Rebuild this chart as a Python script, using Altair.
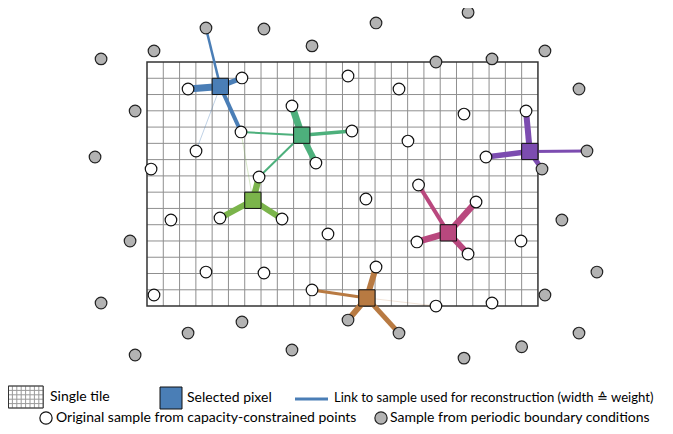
import altair as alt
import pandas as pd

# ---------------- data (positions in tile-cell units, y grows downward) ----------------
tile_cols = 24
tile_rows = 15

# original samples inside the tile (white)
orig_x = [2.52, 5.83, 8.90, 5.77, 3.01, 0.25, 10.37, 6.88, 1.47, 4.48, 8.29, 11.11,
          3.62, 7.18, 0.43, 10.13, 12.34, 15.47, 19.46, 12.58, 16.02, 23.27, 20.81,
          16.67, 13.44, 20.20, 16.57, 19.71, 22.96, 14.06, 17.74, 21.18]
orig_y = [1.66, 0.98, 2.70, 4.30, 5.47, 6.58, 6.21, 7.07, 9.71, 9.59, 9.65, 10.57,
          12.91, 12.97, 14.32, 14.01, 0.86, 1.66, 3.20, 4.24, 4.86, 3.01, 5.84,
          7.56, 8.42, 8.60, 11.06, 11.80, 11.00, 12.60, 15.00, 14.81]

# samples from periodic boundary conditions (gray)
per_x = [-2.82, 0.43, 3.62, 7.18, 10.13, 14.06, 19.71, 17.74, 21.18, 24.43, 26.52,
         -0.73, -3.19, 27.01, 24.25, 25.47, -1.04, 27.62, -2.82, 24.43, 2.52, 5.83,
         12.34, 15.47, 26.52, -0.73, 8.90, 19.46, 23.00]
per_y = [-0.19, -0.68, -2.09, -2.03, -0.99, -2.40, -3.05, 0.00, -0.19, -0.68, 1.66,
         3.01, 5.84, 5.47, 6.58, 9.71, 11.00, 12.91, 14.81, 14.32, 16.66, 15.98,
         15.86, 16.66, 16.66, 18.01, 17.70, 18.20, 17.50]

# selected pixels
pix_col = [4, 9, 6, 18, 13, 23]
pix_row = [1, 4, 8, 10, 14, 5]
pix_color = ["#4a7eb6", "#4db07c", "#7bb44b", "#b9487e", "#b87a42", "#7c4cb0"]

# links from pixel centre to the samples used for reconstruction
link_pix = [0, 0, 0, 0, 0,
            1, 1, 1, 1, 1,
            2, 2, 2, 2,
            3, 3, 3, 3,
            4, 4, 4, 4, 4,
            5, 5, 5, 5]
link_tx = [3.62, 2.52, 5.83, 5.77, 3.01,
           8.90, 12.58, 10.37, 5.77, 6.88,
           6.88, 4.48, 8.29, 5.77,
           16.67, 20.20, 16.57, 19.71,
           14.06, 10.13, 12.34, 15.47, 17.74,
           23.27, 20.81, 27.01, 24.25]
link_ty = [-2.09, 1.66, 0.98, 4.30, 5.47,
           2.70, 4.24, 6.21, 4.30, 7.07,
           7.07, 9.59, 9.65, 4.30,
           7.56, 8.60, 11.06, 11.80,
           12.60, 14.01, 15.86, 16.66, 15.00,
           3.01, 5.84, 5.47, 6.58]
link_w = [2.5, 7, 5, 4, 1,
          7, 3.5, 6, 2, 2,
          6.5, 6, 6, 1,
          4, 6.5, 6.5, 6,
          6, 3, 6, 5, 1,
          6, 5.5, 3, 5]
link_op = [1, 1, 1, 1, 0.35,
           1, 1, 1, 1, 1,
           1, 1, 1, 0.3,
           1, 1, 1, 1,
           1, 1, 1, 1, 0.2,
           1, 1, 1, 1]

legend_labels = ["Single tile", "Selected pixel",
                 "Link to sample used for reconstruction (width \u2259 weight)",
                 "Original sample from capacity-constrained points",
                 "Sample from periodic boundary conditions"]

# ---------------- tables ----------------
W, H = 657, 418
X = alt.Scale(domain=[-8.533, 31.80], nice=False, zero=False)
Y = alt.Scale(domain=[-3.319, 22.372], nice=False, zero=False, reverse=True)

vgrid = pd.DataFrame({"gx": list(range(1, tile_cols)), "y0": 0, "y1": tile_rows})
hgrid = pd.DataFrame({"gy": list(range(1, tile_rows)), "x0": 0, "x1": tile_cols})
border = pd.DataFrame({"bx": [0], "bx2": [tile_cols], "by": [0], "by2": [tile_rows]})

orig = pd.DataFrame({"x": orig_x, "y": orig_y})
per = pd.DataFrame({"x": per_x, "y": per_y})
pix = pd.DataFrame({"c": pix_col, "r": pix_row, "color": pix_color})
pix["c2"] = pix["c"] + 1
pix["r2"] = pix["r"] + 1
links = pd.DataFrame({
    "px": [pix_col[i] + 0.5 for i in link_pix],
    "py": [pix_row[i] + 0.5 for i in link_pix],
    "tx": link_tx, "ty": link_ty,
    "w": link_w, "op": link_op,
    "color": [pix_color[i] for i in link_pix],
})

def ax(f):
    return alt.X(f, scale=X, axis=None, title=None)

def ay(f):
    return alt.Y(f, scale=Y, axis=None, title=None)

grid_v = alt.Chart(vgrid).mark_rule(color="#8f8f8f", strokeWidth=1).encode(
    x=ax("gx:Q"), y=ay("y0:Q"), y2="y1:Q")
grid_h = alt.Chart(hgrid).mark_rule(color="#8f8f8f", strokeWidth=1).encode(
    y=ay("gy:Q"), x=ax("x0:Q"), x2="x1:Q")
frame = alt.Chart(border).mark_rect(fill=None, stroke="#333333", strokeWidth=1.5).encode(
    x=ax("bx:Q"), x2="bx2:Q", y=ay("by:Q"), y2="by2:Q")

link_layer = alt.Chart(links).mark_rule(strokeCap="butt").encode(
    x=ax("px:Q"), y=ay("py:Q"), x2="tx:Q", y2="ty:Q",
    color=alt.Color("color:N", scale=None),
    strokeWidth=alt.StrokeWidth("w:Q", scale=None),
    opacity=alt.Opacity("op:Q", scale=None))

squares = alt.Chart(pix).mark_rect(stroke="#111111", strokeWidth=1).encode(
    x=ax("c:Q"), x2="c2:Q", y=ay("r:Q"), y2="r2:Q",
    fill=alt.Fill("color:N", scale=None))

white_pts = alt.Chart(orig).mark_circle(size=135, color="white", stroke="#111111",
                                        strokeWidth=1.2, opacity=1).encode(
    x=ax("x:Q"), y=ay("y:Q"))
gray_pts = alt.Chart(per).mark_circle(size=135, color="#b3b3b3", stroke="#222222",
                                      strokeWidth=1.2, opacity=1).encode(
    x=ax("x:Q"), y=ay("y:Q"))

# ---------------- legend (pixel positions inside the view) ----------------
ix0, iy0, icw, ich, ncol, nrow = 0, 378, 4.4, 4.4, 8, 5
icon_v = pd.DataFrame({"lx": [ix0 + i * icw for i in range(ncol + 1)],
                       "ly": iy0, "ly2": iy0 + nrow * ich})
icon_h = pd.DataFrame({"ly": [iy0 + j * ich for j in range(nrow + 1)],
                       "lx": ix0, "lx2": ix0 + ncol * icw})
icon_rules_v = alt.Chart(icon_v).mark_rule(color="#9a9a9a", strokeWidth=1).encode(
    x=alt.X("lx:Q", scale=None, axis=None), y=alt.Y("ly:Q", scale=None, axis=None),
    y2="ly2:Q")
icon_rules_h = alt.Chart(icon_h).mark_rule(color="#9a9a9a", strokeWidth=1).encode(
    y=alt.Y("ly:Q", scale=None, axis=None), x=alt.X("lx:Q", scale=None, axis=None),
    x2="lx2:Q")
icon_frame = alt.Chart(border).mark_rect(fill=None, stroke="#333333", strokeWidth=1).encode(
    x=alt.value(ix0 + 0.5), x2=alt.value(ix0 + ncol * icw),
    y=alt.value(iy0), y2=alt.value(iy0 + nrow * ich))

leg_sq = alt.Chart(border).mark_rect(fill=pix_color[0], stroke="#111111", strokeWidth=1).encode(
    x=alt.value(152), x2=alt.value(174), y=alt.value(379), y2=alt.value(401))
leg_line = alt.Chart(border).mark_rule(color=pix_color[0], strokeWidth=3).encode(
    x=alt.value(287), x2=alt.value(320), y=alt.value(391))
leg_white = alt.Chart(border).mark_circle(size=150, color="white", stroke="#111111",
                                          strokeWidth=1.2, opacity=1).encode(
    x=alt.value(38), y=alt.value(410))
leg_gray = alt.Chart(border).mark_circle(size=150, color="#b3b3b3", stroke="#222222",
                                         strokeWidth=1.2, opacity=1).encode(
    x=alt.value(373), y=alt.value(410))

def label(txt, x, y, fs=14):
    return alt.Chart(border).mark_text(align="left", baseline="middle", font="Lato",
                                       fontSize=fs, color="black").encode(
        x=alt.value(x), y=alt.value(y), text=alt.value(txt))

texts = [label(legend_labels[0], 42, 389),
         label(legend_labels[1], 179, 390),
         label(legend_labels[2], 326, 390, 13.1),
         label(legend_labels[3], 48, 410),
         label(legend_labels[4], 382, 410)]

chart = alt.layer(
    grid_v, grid_h, frame, link_layer, squares, white_pts, gray_pts,
    icon_rules_v, icon_rules_h, icon_frame, leg_sq, leg_line, leg_white, leg_gray,
    *texts
).properties(
    width=W, height=H, padding=0,
    autosize=alt.AutoSizeParams(type="none")
).configure_view(strokeWidth=0)

chart.save("out.html", embed_options={"renderer": "svg", "actions": False})
